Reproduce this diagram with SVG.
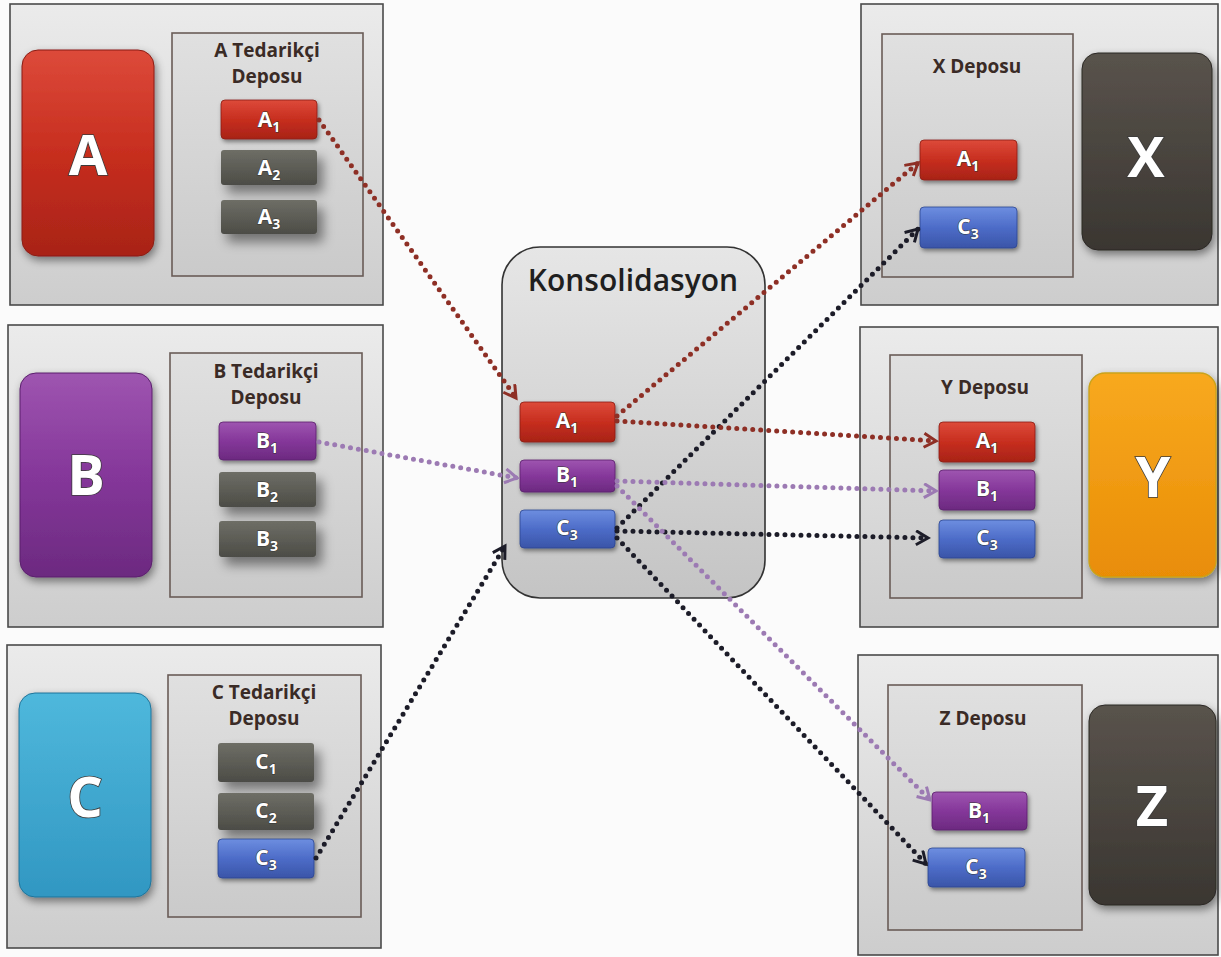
<svg xmlns="http://www.w3.org/2000/svg" width="1221" height="957" viewBox="0 0 1221 957">
  <defs>
    <style>
      .panel { fill: url(#gPanel); stroke: #4a4a4a; stroke-width: 1.6; }
      .inner { fill: url(#gInner); stroke: #6a5c57; stroke-width: 1.6; }
      .big { filter: url(#shBig); }
      .item { filter: url(#shItem); stroke-width: 0.8; }
      .ghost { filter: url(#shGhost); }
      .hdr { font-family: "Open Sans", "Liberation Sans", sans-serif; font-weight: 700; font-size: 19px; fill: #3a2b26; text-anchor: middle; }
      .bigtx { font-family: "Open Sans", "Liberation Sans", sans-serif; font-weight: 700; font-size: 56px; fill: #ffffff; text-anchor: middle; stroke: #3b3b3b; stroke-width: 1.6; paint-order: stroke; }
      .itx { font-family: "Open Sans", "Liberation Sans", sans-serif; font-weight: 700; font-size: 21px; fill: #ffffff; text-anchor: middle; stroke: #333; stroke-width: 1; paint-order: stroke; }
      .itx tspan { font-size: 14px; }
      .title { font-family: "Open Sans", "Liberation Sans", sans-serif; font-weight: 600; font-size: 30px; fill: #1f1f1f; text-anchor: middle; }
      .dot { fill: none; stroke-width: 5; stroke-linecap: round; stroke-dasharray: 0 8; }
      .red { stroke: #8e2f25; }
      .pur { stroke: #9c7ab3; }
      .drk { stroke: #1c1c28; }
    </style>

    <linearGradient id="gPanel" x1="0" y1="0" x2="0" y2="1">
      <stop offset="0" stop-color="#ebebeb"/>
      <stop offset="1" stop-color="#cdcdcd"/>
    </linearGradient>
    <linearGradient id="gInner" x1="0" y1="0" x2="0" y2="1">
      <stop offset="0" stop-color="#e0e0e0"/>
      <stop offset="1" stop-color="#cacaca"/>
    </linearGradient>
    <linearGradient id="gKons" x1="0" y1="0" x2="0" y2="1">
      <stop offset="0" stop-color="#e6e6e6"/>
      <stop offset="1" stop-color="#c4c4c4"/>
    </linearGradient>

    <linearGradient id="gRed" x1="0" y1="0" x2="0" y2="1">
      <stop offset="0" stop-color="#dd4a3a"/>
      <stop offset="0.5" stop-color="#c72e1f"/>
      <stop offset="1" stop-color="#a82317"/>
    </linearGradient>
    <linearGradient id="gPur" x1="0" y1="0" x2="0" y2="1">
      <stop offset="0" stop-color="#9e55b0"/>
      <stop offset="0.5" stop-color="#85379a"/>
      <stop offset="1" stop-color="#6c2a80"/>
    </linearGradient>
    <linearGradient id="gBlu" x1="0" y1="0" x2="0" y2="1">
      <stop offset="0" stop-color="#6d8ee0"/>
      <stop offset="0.5" stop-color="#4d6cc8"/>
      <stop offset="1" stop-color="#3a55a8"/>
    </linearGradient>
    <linearGradient id="gGry" x1="0" y1="0" x2="0" y2="1">
      <stop offset="0" stop-color="#6e6e66"/>
      <stop offset="1" stop-color="#4c4c46"/>
    </linearGradient>
    <linearGradient id="gCya" x1="0" y1="0" x2="0" y2="1">
      <stop offset="0" stop-color="#4fb8dc"/>
      <stop offset="1" stop-color="#3197c2"/>
    </linearGradient>
    <linearGradient id="gDrk" x1="0" y1="0" x2="0" y2="1">
      <stop offset="0" stop-color="#59534c"/>
      <stop offset="1" stop-color="#3a3631"/>
    </linearGradient>
    <linearGradient id="gOra" x1="0" y1="0" x2="0" y2="1">
      <stop offset="0" stop-color="#f8a91f"/>
      <stop offset="1" stop-color="#e98d06"/>
    </linearGradient>

    <filter id="shBig" x="-20%" y="-20%" width="150%" height="150%">
      <feDropShadow dx="2" dy="4" stdDeviation="4" flood-color="#000" flood-opacity="0.45"/>
    </filter>
    <filter id="shItem" x="-20%" y="-30%" width="150%" height="180%">
      <feDropShadow dx="1.5" dy="2.5" stdDeviation="2" flood-color="#000" flood-opacity="0.45"/>
    </filter>
    <filter id="shGhost" x="-30%" y="-40%" width="180%" height="220%">
      <feDropShadow dx="6" dy="8" stdDeviation="6" flood-color="#000" flood-opacity="0.45"/>
    </filter>

    <marker id="arRed" markerUnits="userSpaceOnUse" markerWidth="18" markerHeight="18" refX="13" refY="8" orient="auto">
      <path d="M1,1 L13,8 L1,15" fill="none" stroke="#8e2f25" stroke-width="3" stroke-linejoin="miter"/>
    </marker>
    <marker id="arPur" markerUnits="userSpaceOnUse" markerWidth="18" markerHeight="18" refX="13" refY="8" orient="auto">
      <path d="M1,1 L13,8 L1,15" fill="none" stroke="#9c7ab3" stroke-width="3" stroke-linejoin="miter"/>
    </marker>
    <marker id="arDrk" markerUnits="userSpaceOnUse" markerWidth="18" markerHeight="18" refX="13" refY="8" orient="auto">
      <path d="M1,1 L13,8 L1,15" fill="none" stroke="#1c1c28" stroke-width="3" stroke-linejoin="miter"/>
    </marker>
  </defs>

  <rect x="0" y="0" width="1221" height="957" fill="#fbfbfb"/>

  <!-- Supplier A -->
  <g id="supplier-a">
    <rect class="panel" x="10" y="4" width="373" height="301"/>
    <rect class="big" x="22" y="50" width="132" height="206" rx="16" fill="url(#gRed)" stroke="#8a1d12" stroke-width="1"/>
    <text class="bigtx" x="88" y="175">A</text>
    <rect class="inner" x="172" y="33" width="191" height="243"/>
    <text class="hdr" x="267" y="57">A Tedarikçi</text>
    <text class="hdr" x="267" y="83">Deposu</text>
    <rect class="item" x="221" y="100" width="96" height="39" rx="4" fill="url(#gRed)" stroke="#8a1d12"/>
    <text class="itx" x="269" y="127">A<tspan dy="5">1</tspan></text>
    <rect class="ghost" x="221" y="150" width="96" height="35" rx="3" fill="url(#gGry)"/>
    <text class="itx" x="269" y="175">A<tspan dy="5">2</tspan></text>
    <rect class="ghost" x="221" y="200" width="96" height="34" rx="3" fill="url(#gGry)"/>
    <text class="itx" x="269" y="224">A<tspan dy="5">3</tspan></text>
  </g>

  <!-- Supplier B -->
  <g id="supplier-b">
    <rect class="panel" x="8" y="325" width="375" height="302"/>
    <rect class="big" x="20" y="373" width="132" height="204" rx="16" fill="url(#gPur)" stroke="#5a1f6c" stroke-width="1"/>
    <text class="bigtx" x="86" y="495">B</text>
    <rect class="inner" x="170" y="353" width="192" height="244"/>
    <text class="hdr" x="266" y="378">B Tedarikçi</text>
    <text class="hdr" x="266" y="404">Deposu</text>
    <rect class="item" x="219" y="422" width="97" height="38" rx="4" fill="url(#gPur)" stroke="#5a1f6c"/>
    <text class="itx" x="267" y="448">B<tspan dy="5">1</tspan></text>
    <rect class="ghost" x="219" y="472" width="97" height="35" rx="3" fill="url(#gGry)"/>
    <text class="itx" x="267" y="497">B<tspan dy="5">2</tspan></text>
    <rect class="ghost" x="219" y="521" width="97" height="36" rx="3" fill="url(#gGry)"/>
    <text class="itx" x="267" y="546">B<tspan dy="5">3</tspan></text>
  </g>

  <!-- Supplier C -->
  <g id="supplier-c">
    <rect class="panel" x="7" y="645" width="374" height="303"/>
    <rect class="big" x="19" y="693" width="132" height="204" rx="16" fill="url(#gCya)" stroke="#1f7399" stroke-width="1"/>
    <text class="bigtx" x="85" y="817">C</text>
    <rect class="inner" x="168" y="675" width="193" height="242"/>
    <text class="hdr" x="264" y="699">C Tedarikçi</text>
    <text class="hdr" x="264" y="725">Deposu</text>
    <rect class="ghost" x="218" y="743" width="96" height="39" rx="3" fill="url(#gGry)"/>
    <text class="itx" x="266" y="769">C<tspan dy="5">1</tspan></text>
    <rect class="ghost" x="218" y="793" width="96" height="37" rx="3" fill="url(#gGry)"/>
    <text class="itx" x="266" y="818">C<tspan dy="5">2</tspan></text>
    <rect class="item" x="218" y="839" width="96" height="39" rx="4" fill="url(#gBlu)" stroke="#2c4590"/>
    <text class="itx" x="266" y="865">C<tspan dy="5">3</tspan></text>
  </g>

  <!-- Consolidation hub -->
  <g id="konsolidasyon">
    <rect x="502" y="247" width="263" height="351" rx="38" fill="url(#gKons)" stroke="#333" stroke-width="1.6"/>
    <text class="title" x="633" y="291">Konsolidasyon</text>
    <rect class="item" x="520" y="402" width="95" height="40" rx="4" fill="url(#gRed)" stroke="#8a1d12"/>
    <text class="itx" x="567" y="428">A<tspan dy="5">1</tspan></text>
    <rect class="item" x="520" y="460" width="95" height="32" rx="4" fill="url(#gPur)" stroke="#5a1f6c"/>
    <text class="itx" x="567" y="482">B<tspan dy="5">1</tspan></text>
    <rect class="item" x="520" y="510" width="95" height="38" rx="4" fill="url(#gBlu)" stroke="#2c4590"/>
    <text class="itx" x="567" y="535">C<tspan dy="5">3</tspan></text>
  </g>

  <!-- Warehouse X -->
  <g id="depo-x">
    <rect class="panel" x="861" y="4" width="357" height="301"/>
    <rect class="inner" x="882" y="34" width="191" height="243"/>
    <text class="hdr" x="977" y="73">X Deposu</text>
    <rect class="item" x="920" y="140" width="97" height="40" rx="4" fill="url(#gRed)" stroke="#8a1d12"/>
    <text class="itx" x="968" y="166">A<tspan dy="5">1</tspan></text>
    <rect class="item" x="920" y="207" width="97" height="41" rx="4" fill="url(#gBlu)" stroke="#2c4590"/>
    <text class="itx" x="968" y="234">C<tspan dy="5">3</tspan></text>
    <rect class="big" x="1082" y="53" width="130" height="197" rx="16" fill="url(#gDrk)" stroke="#2b2824" stroke-width="1"/>
    <text class="bigtx" x="1146" y="177">X</text>
  </g>

  <!-- Warehouse Y -->
  <g id="depo-y">
    <rect class="panel" x="860" y="327" width="358" height="300"/>
    <rect class="inner" x="890" y="355" width="192" height="243"/>
    <text class="hdr" x="985" y="394">Y Deposu</text>
    <rect class="item" x="939" y="422" width="96" height="40" rx="4" fill="url(#gRed)" stroke="#8a1d12"/>
    <text class="itx" x="987" y="448">A<tspan dy="5">1</tspan></text>
    <rect class="item" x="939" y="470" width="96" height="40" rx="4" fill="url(#gPur)" stroke="#5a1f6c"/>
    <text class="itx" x="987" y="496">B<tspan dy="5">1</tspan></text>
    <rect class="item" x="939" y="520" width="96" height="38" rx="4" fill="url(#gBlu)" stroke="#2c4590"/>
    <text class="itx" x="987" y="545">C<tspan dy="5">3</tspan></text>
    <rect class="big" x="1089" y="373" width="127" height="204" rx="16" fill="url(#gOra)" stroke="#c9a21a" stroke-width="1.4"/>
    <text class="bigtx" x="1153" y="497">Y</text>
  </g>

  <!-- Warehouse Z -->
  <g id="depo-z">
    <rect class="panel" x="858" y="655" width="360" height="300"/>
    <rect class="inner" x="888" y="685" width="194" height="245"/>
    <text class="hdr" x="983" y="725">Z Deposu</text>
    <rect class="item" x="932" y="792" width="95" height="38" rx="4" fill="url(#gPur)" stroke="#5a1f6c"/>
    <text class="itx" x="979" y="818">B<tspan dy="5">1</tspan></text>
    <rect class="item" x="928" y="848" width="97" height="39" rx="4" fill="url(#gBlu)" stroke="#2c4590"/>
    <text class="itx" x="976" y="874">C<tspan dy="5">3</tspan></text>
    <rect class="big" x="1089" y="705" width="127" height="200" rx="16" fill="url(#gDrk)" stroke="#2b2824" stroke-width="1"/>
    <text class="bigtx" x="1152" y="826">Z</text>
  </g>

  <!-- Flows: supplier -> hub -> warehouses -->
  <g id="connectors">
    <path class="dot red" d="M319,120 L516,398" marker-end="url(#arRed)"/>
    <path class="dot pur" d="M319,442 L517,478" marker-end="url(#arPur)"/>
    <path class="dot drk" d="M316,858 L505,546" marker-end="url(#arDrk)"/>
    <path class="dot red" d="M617,416 L918,163" marker-end="url(#arRed)"/>
    <path class="dot drk" d="M617,528 L918,229" marker-end="url(#arDrk)"/>
    <path class="dot red" d="M617,421 L936,441" marker-end="url(#arRed)"/>
    <path class="dot pur" d="M617,481 L936,491" marker-end="url(#arPur)"/>
    <path class="dot drk" d="M617,531 L928,538" marker-end="url(#arDrk)"/>
    <path class="dot pur" d="M617,486 L930,800" marker-end="url(#arPur)"/>
    <path class="dot drk" d="M617,538 L926,864" marker-end="url(#arDrk)"/>
  </g>
</svg>
